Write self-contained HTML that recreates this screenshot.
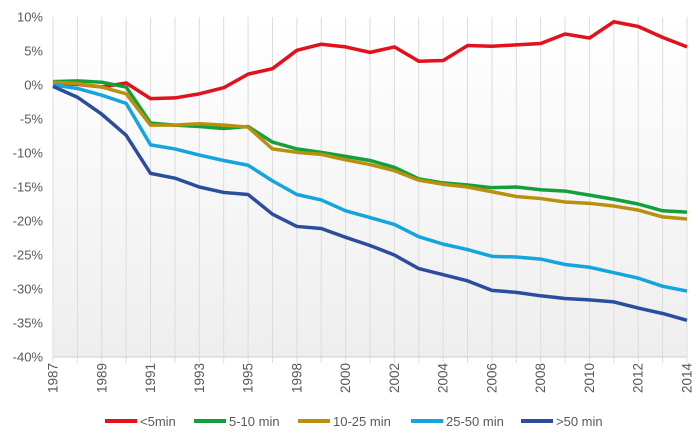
<!DOCTYPE html>
<html><head><meta charset="utf-8"><style>
body{margin:0;background:#fff;font-family:"Liberation Sans",sans-serif}
svg text{font-family:"Liberation Sans",sans-serif;fill:#595959}
</style></head><body>
<svg id="chart" width="700" height="441" viewBox="0 0 700 441" xmlns="http://www.w3.org/2000/svg">
<defs><linearGradient id="bg" x1="0" y1="0" x2="0" y2="1"><stop offset="0" stop-color="#ffffff"/><stop offset="1" stop-color="#eeeeee"/></linearGradient></defs>
<rect x="53" y="17" width="634" height="340" fill="url(#bg)"/>
<g id="grid"></g><g id="series"></g><g id="axes"></g><g id="legend"></g>
</svg>
<script>
const categories=["1987","1988","1989","1990","1991","1992","1993","1994","1995","1996","1998","1999","2000","2001","2002","2003","2004","2005","2006","2007","2008","2009","2010","2011","2012","2013","2014"];
const shownLabels=["1987","1989","1991","1993","1995","1998","2000","2002","2004","2006","2008","2010","2012","2014"];
const yTicks=[10,5,0,-5,-10,-15,-20,-25,-30,-35,-40];
const seriesNames=["<5min","5-10 min","10-25 min","25-50 min",">50 min"];
const seriesColors=["#e3111b","#13a03c","#b8900b","#14a5de","#2b4d9c"];
const lt5=[0.3,0.1,-0.3,0.3,-2.0,-1.9,-1.3,-0.4,1.6,2.4,5.1,6.0,5.6,4.8,5.6,3.5,3.6,5.8,5.7,5.9,6.1,7.5,6.9,9.3,8.6,7.0,5.6];
const m5to10=[0.5,0.6,0.4,-0.3,-5.6,-5.9,-6.1,-6.4,-6.1,-8.4,-9.4,-9.9,-10.5,-11.1,-12.1,-13.8,-14.4,-14.7,-15.1,-15.0,-15.4,-15.6,-16.2,-16.8,-17.5,-18.5,-18.7];
const m10to25=[0.4,0.2,-0.3,-1.3,-5.9,-5.9,-5.7,-5.9,-6.2,-9.4,-9.9,-10.2,-11.0,-11.7,-12.6,-14.0,-14.6,-15.0,-15.7,-16.4,-16.7,-17.2,-17.4,-17.8,-18.4,-19.4,-19.7];
const m25to50=[0,-0.5,-1.5,-2.7,-8.8,-9.4,-10.3,-11.1,-11.8,-14.1,-16.1,-16.9,-18.5,-19.5,-20.5,-22.3,-23.4,-24.2,-25.2,-25.3,-25.6,-26.4,-26.8,-27.6,-28.4,-29.6,-30.3];
const gt50=[-0.2,-1.8,-4.3,-7.4,-13.0,-13.7,-15.0,-15.8,-16.1,-19.0,-20.8,-21.1,-22.4,-23.6,-25.0,-27.0,-27.9,-28.8,-30.2,-30.5,-31.0,-31.4,-31.6,-31.9,-32.8,-33.6,-34.6];
const allSeries=[lt5,m5to10,m10to25,m25to50,gt50];
const NS="http://www.w3.org/2000/svg";
const x0=53,x1=687,yTop=17,yBot=357,vMax=10,vMin=-40;
function xs(i){return x0+i*(x1-x0)/(categories.length-1);}
function ys(v){return yTop+(vMax-v)*(yBot-yTop)/(vMax-vMin);}
function mk(t,a,p){const e=document.createElementNS(NS,t);for(const k in a)e.setAttribute(k,a[k]);p.appendChild(e);return e;}
const grid=document.getElementById('grid'),axes=document.getElementById('axes'),ser=document.getElementById('series'),leg=document.getElementById('legend');
categories.forEach((c,i)=>{
 const l=mk('line',{x1:xs(i),x2:xs(i),y1:yTop,y2:yBot+6,stroke:'#dcdcdc','stroke-width':1},grid);
 
 
 if(shownLabels.includes(c)){
  const t=mk('text',{x:0,y:0,'font-size':13.5,'text-anchor':'end',transform:`translate(${xs(i)+4.5},${yBot+6}) rotate(-90)`},axes);
  t.textContent=c;
  
  
 }
});
const ax=mk('line',{x1:x0,x2:x1,y1:yBot,y2:yBot,stroke:'#cfcfcf','stroke-width':1},axes);


yTicks.forEach(v=>{
 const t=mk('text',{x:43,y:ys(v)+4.5,'font-size':13,'text-anchor':'end'},axes);
 t.textContent=v+'%';
 
 
});
allSeries.forEach((d,s)=>{
 const p=mk('polyline',{points:d.map((v,i)=>xs(i)+','+ys(v)).join(' '),fill:'none',stroke:seriesColors[s],'stroke-width':3.5,'stroke-linejoin':'round'},ser);
 
 
});
const legX=[140,229,333,446,556];
seriesNames.forEach((n,s)=>{
 const g=mk('g',{},leg);
 
 
 mk('line',{x1:legX[s]-35,x2:legX[s]-3,y1:421,y2:421,stroke:seriesColors[s],'stroke-width':4},g);
 const t=mk('text',{x:legX[s],y:426,'font-size':13},g);
 t.textContent=n;
});
</script>
</body></html>
